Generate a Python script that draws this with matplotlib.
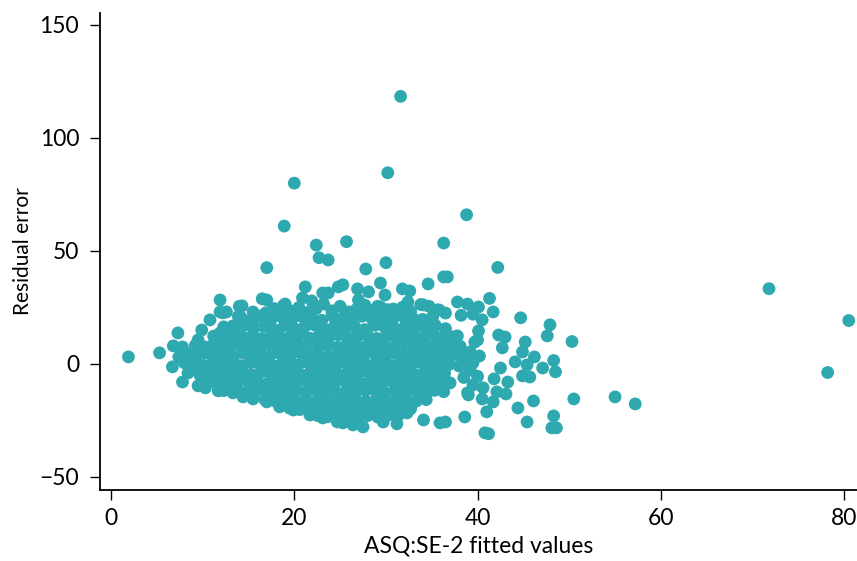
import numpy as np
import matplotlib
matplotlib.use("Agg")
import matplotlib.pyplot as plt

plt.rcParams['font.family'] = ['Lato', 'DejaVu Sans']

# ---- Data ----
# dense core, by rows
core_x = [
    14.2,15.3,16.4,17.5,18.6,19.7,20.8,21.9,23.0,24.1,25.2,26.3,27.4,28.5,29.6,30.7,31.8,32.9,34.0,35.1,
    12.3,13.4,14.5,15.6,16.7,17.8,18.9,20.0,21.1,22.2,23.3,24.4,25.5,26.6,27.7,28.8,29.9,31.0,32.1,33.2,34.3,35.4,36.5,
    11.2,12.2,13.3,14.3,15.4,16.4,17.5,18.5,19.6,20.6,21.7,22.7,23.8,24.8,25.9,26.9,28.0,29.0,30.1,31.1,32.2,33.2,34.3,35.3,36.4,37.4,
    9.2,10.2,11.2,12.3,13.3,14.3,15.4,16.4,17.4,18.5,19.5,20.5,21.6,22.6,23.6,24.7,25.7,26.7,27.8,28.8,29.8,30.9,31.9,32.9,34.0,35.0,36.0,37.1,38.1,
    8.3,9.3,10.3,11.4,12.4,13.4,14.5,15.5,16.5,17.6,18.6,19.6,20.7,21.7,22.7,23.8,24.8,25.8,26.9,27.9,28.9,30.0,31.0,32.0,33.1,34.1,35.1,36.2,37.2,
    9.0,10.0,11.1,12.1,13.1,14.2,15.2,16.2,17.3,18.3,19.3,20.4,21.4,22.4,23.5,24.5,25.5,26.6,27.6,28.6,29.7,30.7,31.7,32.8,33.8,34.8,35.9,36.9,
    10.2,11.2,12.3,13.3,14.4,15.4,16.5,17.5,18.6,19.6,20.7,21.7,22.8,23.8,24.9,25.9,27.0,28.0,29.1,30.1,31.2,32.2,33.3,34.3,35.4,36.4,
    11.8,12.9,13.9,15.0,16.0,17.1,18.1,19.2,20.2,21.3,22.3,23.4,24.4,25.5,26.5,27.6,28.6,29.7,30.7,31.8,32.8,33.9,34.9,36.0,37.0,
    13.9,15.0,16.1,17.1,18.2,19.3,20.3,21.4,22.5,23.5,24.6,25.7,26.7,27.8,28.9,29.9,31.0,32.1,33.1,34.2,35.3,36.3,
    16.8,17.9,19.0,20.1,21.2,22.3,23.4,24.5,25.6,26.7,27.8,28.9,30.0,31.1,32.2,33.3,34.4,
    19.5,20.6,21.7,22.8,23.9,25.0,26.1,27.2,28.3,29.4,30.5,31.6,32.7,
    22.5,23.6,24.7,25.8,26.9,28.0,29.1,30.2,31.3,
    12.2,13.9,14.0,15.5,16.9,17.8,18.8,19.6,20.5,21.5,22.4,23.2,24.1,25.0,25.9,26.8,27.7,28.5,29.1,30.2,31.0,31.8,32.7,33.8,34.7,35.6,36.5,38.2,39.5,
]
core_y = [
    20.5,19.2,21.3,19.8,20.9,19.4,21.0,20.0,19.3,21.4,20.2,19.6,21.1,19.9,20.6,19.1,21.2,20.3,19.7,20.8,
    16.4,15.3,17.0,15.8,16.6,15.1,16.9,15.6,16.3,17.2,15.4,16.8,15.9,16.5,15.2,17.1,16.0,15.5,16.7,15.8,16.2,17.0,15.6,
    12.3,11.5,12.8,11.9,12.5,11.2,12.9,11.7,12.2,12.7,11.4,12.4,11.8,12.9,11.6,12.1,12.6,11.3,12.3,11.9,12.8,11.5,12.2,12.6,11.8,12.0,
    8.2,7.6,8.7,7.9,8.4,7.3,8.8,7.7,8.3,8.6,7.5,8.1,8.9,7.8,8.4,7.4,8.6,8.0,7.7,8.5,8.2,7.6,8.8,7.9,8.3,7.5,8.7,8.0,7.8,
    4.3,3.6,4.8,3.9,4.4,3.3,4.7,4.0,3.5,4.6,4.1,3.7,4.9,3.8,4.2,3.4,4.5,4.0,3.6,4.8,4.2,3.5,4.6,3.9,4.3,3.7,4.4,4.0,3.8,
    0.2,-0.6,0.7,-0.3,0.4,-0.8,0.6,-0.1,0.5,-0.7,0.3,-0.4,0.8,-0.2,0.1,-0.6,0.5,-0.3,0.7,-0.5,0.2,-0.8,0.4,-0.1,0.6,-0.4,0.3,-0.2,
    -3.8,-4.5,-3.4,-4.2,-3.7,-4.8,-3.5,-4.3,-4.0,-3.3,-4.6,-3.9,-4.4,-3.6,-4.7,-3.8,-4.1,-3.5,-4.5,-3.9,-4.2,-3.4,-4.8,-3.7,-4.3,-4.0,
    -7.8,-8.5,-7.4,-8.2,-7.9,-8.7,-7.5,-8.3,-8.0,-7.6,-8.6,-7.9,-8.4,-7.7,-8.1,-8.8,-7.6,-8.2,-7.8,-8.5,-7.4,-8.3,-8.0,-7.7,-8.4,
    -11.8,-12.5,-11.4,-12.2,-11.9,-12.7,-11.6,-12.3,-12.0,-11.5,-12.6,-11.9,-12.4,-11.7,-12.1,-12.8,-11.6,-12.2,-11.9,-12.5,-11.7,-12.3,
    -15.8,-16.4,-15.5,-16.2,-15.9,-16.7,-15.6,-16.3,-16.0,-15.5,-16.6,-15.9,-16.4,-15.7,-16.1,-16.5,-15.8,
    -19.6,-20.2,-19.3,-20.0,-19.8,-20.5,-19.4,-20.1,-19.7,-20.3,-19.5,-20.0,-19.8,
    -22.8,-23.4,-22.6,-23.2,-23.9,-22.9,-23.5,-22.7,-23.1,
    22.6,21.0,25.5,23.0,22.6,24.5,25.8,23.5,25.0,22.8,24.5,26.5,23.5,25.5,23.0,24.2,26.0,23.5,25.5,24.0,22.5,25.0,23.2,26.3,25.5,23.9,22.5,21.5,22.0,
]

# edge points of the cloud
edge_x = [
    1.9,5.3,6.8,7.3,7.8,7.4,6.7,7.8,8.4,9.7,9.5,10.3,11.1,11.7,12.3,13.3,13.0,13.8,14.4,15.5,
    17.0,18.4,19.9,21.7,23.1,24.7,25.3,26.4,27.5,29.7,31.2,32.3,34.1,35.9,36.5,38.6,40.8,41.2,41.0,40.5,
    41.7,39.0,38.9,39.5,40.6,42.1,43.1,44.4,45.4,46.1,48.3,48.1,48.6,50.5,55.0,57.2,
    41.8,43.3,44.9,45.7,42.5,44.1,45.4,47.1,48.5,48.3,46.2,44.9,42.7,45.2,43.0,42.3,47.6,47.9,44.7,50.3,
    40.0,39.2,39.7,38.4,39.2,37.8,37.8,40.1,40.5,41.7,41.3,40.1,38.9,37.8,35.8,34.1,34.6,36.3,36.7,42.2,
    32.4,30.8,29.4,27.0,28.1,29.9,31.8,32.6,26.9,25.3,29.4,27.8,
    21.2,20.9,21.9,23.1,23.7,24.8,19.0,16.5,17.0,17.2,15.5,14.3,14.1,13.3,11.9,12.6,11.9,11.9,10.8,9.9,
    9.5,9.0,17.0,38.0,39.5,40.2,38.5,40.0,38.0,8.0,8.8,10.5,11.5,
]
edge_y = [
    3.1,4.9,8.0,13.7,7.5,3.1,-1.3,-8.0,-4.0,-4.9,-9.7,-10.6,-1.8,-11.9,-11.8,-12.8,-7.1,-3.5,-14.6,-15.5,
    -16.8,-19.0,-20.4,-22.6,-23.9,-25.7,-26.1,-27.0,-27.9,-25.7,-26.5,-21.7,-24.8,-26.1,-25.7,-23.5,-30.5,-30.9,-21.2,-15.5,
    -16.8,-13.7,-12.8,-9.3,-10.6,-12.4,-13.3,-19.5,-25.7,-16.4,-23.0,-28.3,-28.3,-15.5,-14.6,-17.7,
    -6.6,-8.0,-5.3,-5.8,-1.8,0.9,-0.4,-1.8,-3.5,1.5,3.1,5.3,7.1,9.7,11.9,12.8,12.4,17.3,20.4,9.9,
    10.6,5.3,9.7,1.8,-2.7,7.5,12.4,14.6,19.5,23.0,29.0,25.2,26.5,27.4,23.9,26.1,35.4,38.5,38.5,42.7,
    27.4,24.3,25.2,28.3,31.9,30.5,33.2,32.3,33.2,35.0,35.8,42.0,
    34.1,29.2,27.9,31.4,31.4,34.1,26.5,28.8,28.3,22.6,19.5,25.7,20.8,16.8,28.3,23.0,23.0,13.7,19.5,15.0,
    10.6,4.9,42.6,-1.0,0.5,3.5,-6.0,-5.5,4.5,0.5,-2.5,-6.5,-8.5,
]

# outlying points
outlier_x = [31.6, 20.0, 30.2, 38.8, 18.9, 22.4, 25.7, 22.7, 23.7, 30.0, 36.3, 71.8, 80.5, 78.2]
outlier_y = [118.4, 80.0, 84.6, 66.0, 61.0, 52.6, 54.1, 47.0, 46.0, 44.8, 53.5, 33.3, 19.2, -3.8]

fitted = np.array(core_x + edge_x + outlier_x)
residual = np.array(core_y + edge_y + outlier_y)

x_ticks = [0, 20, 40, 60, 80]
y_ticks = [-50, 0, 50, 100, 150]

# ---- Plot ----
fig = plt.figure(figsize=(8.57, 5.61), dpi=100)
ax = fig.add_axes([100/857, 1 - 490/561, 1 - 100/857, (490 - 13)/561])

ax.scatter(fitted, residual, s=85, color='#2EA9B0', edgecolors='none', clip_on=False, zorder=3)

ax.set_xlim(-1.2, 81.4)
ax.set_ylim(-55.8, 155.3)
ax.set_xticks(x_ticks)
ax.set_yticks(y_ticks)
ax.set_yticklabels(['\u221250', '0', '50', '100', '150'])

for s in ['top', 'right']:
    ax.spines[s].set_visible(False)
for s in ['left', 'bottom']:
    ax.spines[s].set_linewidth(1.3)
    ax.spines[s].set_color('black')

ax.tick_params(direction='out', length=7, width=1.0, labelsize=16.5, colors='black')
ax.tick_params(axis='y', pad=8)
ax.tick_params(axis='x', pad=6)

ax.set_xlabel('ASQ:SE-2 fitted values', fontsize=16.5, labelpad=5)
ax.set_ylabel('Residual error', fontsize=15, labelpad=5)

fig.savefig('out.png', dpi=100)
